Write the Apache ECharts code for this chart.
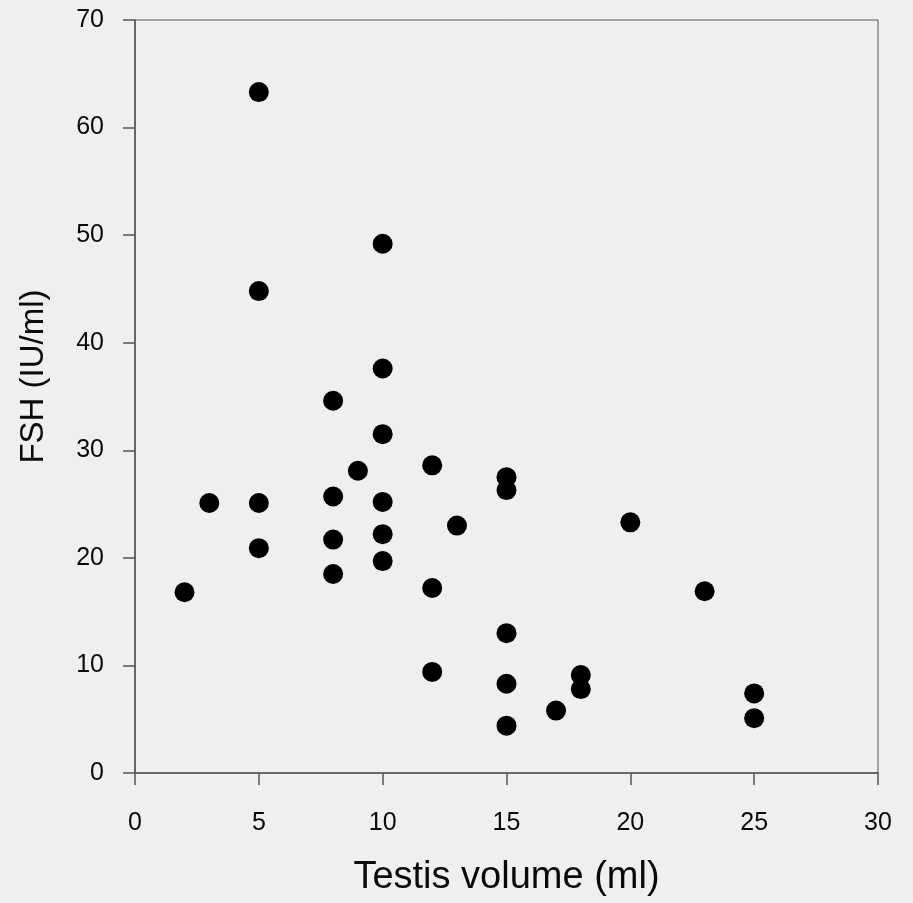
<!DOCTYPE html>
<html>
<head>
<meta charset="utf-8">
<script src="https://cdn.jsdelivr.net/npm/echarts@6/dist/echarts.min.js"></script>
<style>
html, body { margin: 0; padding: 0; background: #efefef; }
#main { width: 913px; height: 903px; }
</style>
</head>
<body>
<div id="main"></div>
<script>
// testis volume (ml) / FSH (IU/ml)
var testisVolume = [2, 3, 5, 5, 5, 5, 8, 8, 8, 8, 9, 10, 10, 10, 10, 10, 10,
  12, 12, 12, 13, 15, 15, 15, 15, 15, 17, 18, 18, 20, 23, 25, 25];
var fsh = [16.8, 25.1, 63.3, 44.8, 25.1, 20.9, 34.6, 25.7, 21.7, 18.5, 28.1, 49.2, 37.6, 31.5, 25.2, 22.2, 19.7,
  28.6, 17.2, 9.4, 23.0, 27.5, 26.3, 13.0, 8.3, 4.4, 5.8, 9.1, 7.8, 23.3, 16.9, 7.4, 5.1];
var xTicks = [0, 5, 10, 15, 20, 25, 30];
var yTicks = [0, 10, 20, 30, 40, 50, 60, 70];

var points = [];
for (var i = 0; i < testisVolume.length; i++) {
  points.push([testisVolume[i], fsh[i]]);
}

var axisColor = '#555';
var textColor = '#0a0a0a';
var myChart = echarts.init(document.getElementById('main'));
var option = {
  backgroundColor: '#efefef',
  animation: false,
  grid: {
    left: 135, right: 35, top: 20, bottom: 130,
    show: true, borderColor: axisColor, borderWidth: 1
  },
  xAxis: {
    type: 'value',
    min: xTicks[0], max: xTicks[xTicks.length - 1], interval: 5,
    name: 'Testis volume (ml)',
    nameLocation: 'middle', nameGap: 86,
    nameTextStyle: { fontFamily: 'Liberation Sans', fontSize: 38, color: textColor },
    axisLine: { show: true, lineStyle: { color: axisColor, width: 1.5 } },
    axisTick: { show: true, inside: false, length: 12, lineStyle: { color: axisColor, width: 1.5 } },
    axisLabel: { margin: 38, fontFamily: 'Liberation Sans', fontSize: 25, color: textColor },
    splitLine: { show: false }
  },
  yAxis: {
    type: 'value',
    min: yTicks[0], max: yTicks[yTicks.length - 1], interval: 10,
    name: 'FSH (IU/ml)',
    nameLocation: 'middle', nameGap: 85, nameRotate: 90,
    nameTextStyle: { fontFamily: 'Liberation Sans', fontSize: 33, color: textColor, padding: [0, 0, 0, 40] },
    axisLine: { show: true, lineStyle: { color: axisColor, width: 1.5 } },
    axisTick: { show: true, inside: false, length: 12, lineStyle: { color: axisColor, width: 1.5 } },
    axisLabel: { margin: 31, fontFamily: 'Liberation Sans', fontSize: 25, color: textColor },
    splitLine: { show: false }
  },
  series: [
    {
      type: 'scatter',
      data: points,
      symbol: 'circle',
      symbolSize: 20,
      itemStyle: { color: '#000', opacity: 1 }
    }
  ]
};
myChart.setOption(option);
</script>
</body>
</html>
